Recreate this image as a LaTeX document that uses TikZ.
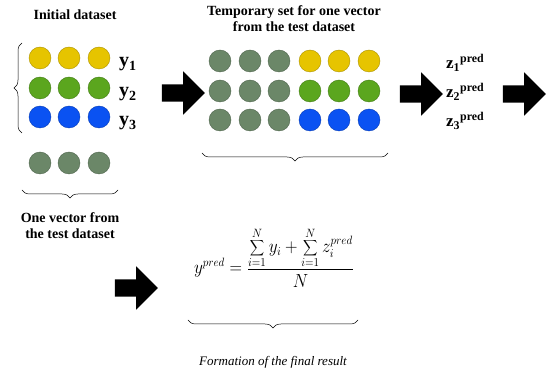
\documentclass[tikz,border=0pt]{standalone}
\usepackage{fontspec}
\setmainfont{Liberation Serif}
\usetikzlibrary{shapes.arrows,decorations.pathreplacing}

\definecolor{dotyellow}{HTML}{E6C400}
\definecolor{dotgreen}{HTML}{5BA61E}
\definecolor{dotblue}{HTML}{0A52F2}
\definecolor{dotgray}{HTML}{6B8768}

\begin{document}
\begin{tikzpicture}[
        x=1pt, y=-1pt,
        dot/.style={
            circle,
            draw=#1!75!black,
            fill=#1,
            line width=0.4pt,
            inner sep=0pt,
            minimum size=22pt
        },
        heading/.style={
            align=center,
            font=\rmfamily\fontsize{14}{16}\selectfont\bfseries
        },
        seriesname/.style={
            anchor=base west,
            inner sep=0pt,
            font=\rmfamily\fontsize{20}{22}\selectfont\bfseries
        },
        predname/.style={
            anchor=base west,
            inner sep=0pt,
            font=\rmfamily\fontsize{17}{19}\selectfont\bfseries
        },
        bigarrow/.style={
            single arrow,
            fill=black,
            inner sep=0pt,
            text height=17pt,
            text depth=0pt,
            minimum height=43pt,
            single arrow head extend=13pt
        },
        curly/.style={
            decorate,
            decoration={brace, amplitude=8pt},
            line width=0.5pt
        }
    ]

        \useasboundingbox (0,0) rectangle (550,374);

        % initial dataset
        \node[heading] (inittitle) at (75,15) {Initial dataset};

        \foreach \row/\yy/\colour in {1/58/dotyellow, 2/88/dotgreen, 3/117/dotblue}
            \foreach \col/\xx in {1/40, 2/69, 3/99}
                \node[dot=\colour] (init-\row-\col) at (\xx,\yy) {};

        \node[seriesname] (y1) at (119,67) {y\textsubscript{1}};
        \node[seriesname] (y2) at (119,97) {y\textsubscript{2}};
        \node[seriesname] (y3) at (119,126) {y\textsubscript{3}};

        \draw[curly] (22,133) -- (22,43);

        % test vector
        \foreach \col/\xx in {1/40, 2/69, 3/99}
            \node[dot=dotgray] (test-\col) at (\xx,163) {};

        \draw[curly] (118,190) -- (22,190);

        \node[heading] (testtitle) at (70,226)
        {One vector from\\the test dataset};

        \node[bigarrow] (arrow1) at (179,93) {};

        % temporary set
        \node[heading] (temptitle) at (294,19)
        {Temporary set for one vector\\from the test dataset};

        \foreach \row/\yy/\colour in {1/61/dotyellow, 2/91/dotgreen, 3/120/dotblue}
        {
            \foreach \col/\xx in {1/220, 2/250, 3/279}
                \node[dot=dotgray] (temp-\row-\col) at (\xx,\yy) {};
            \foreach \col/\xx in {4/310, 5/339, 6/369}
                \node[dot=\colour] (temp-\row-\col) at (\xx,\yy) {};
        }

        \draw[curly] (388,153) -- (202,153);

        \node[bigarrow] (arrow2) at (417,94) {};

        % predictions
        \node[predname] (z1) at (446,69) {z\textsubscript{1}\textsuperscript{pred}};
        \node[predname] (z2) at (446,98) {z\textsubscript{2}\textsuperscript{pred}};
        \node[predname] (z3) at (446,127) {z\textsubscript{3}\textsuperscript{pred}};

        \node[bigarrow] (arrow3) at (520,94) {};

        % final result
        \node[bigarrow] (arrow4) at (132,288) {};

        \node[anchor=base, font=\fontsize{16}{19}\selectfont] (formula) at (274,274)
        {\scalebox{1}[1.1]{$\displaystyle y^{pred} = \frac{\displaystyle\sum_{i=1}^{N} y_i + \sum_{i=1}^{N} z_i^{pred}}{N}$}};

        \draw[curly] (358,320) -- (188,320);

        \node[font=\rmfamily\fontsize{13}{15}\selectfont\itshape] (result) at (273,362)
        {Formation of the final result};

    \end{tikzpicture}
\end{document}
